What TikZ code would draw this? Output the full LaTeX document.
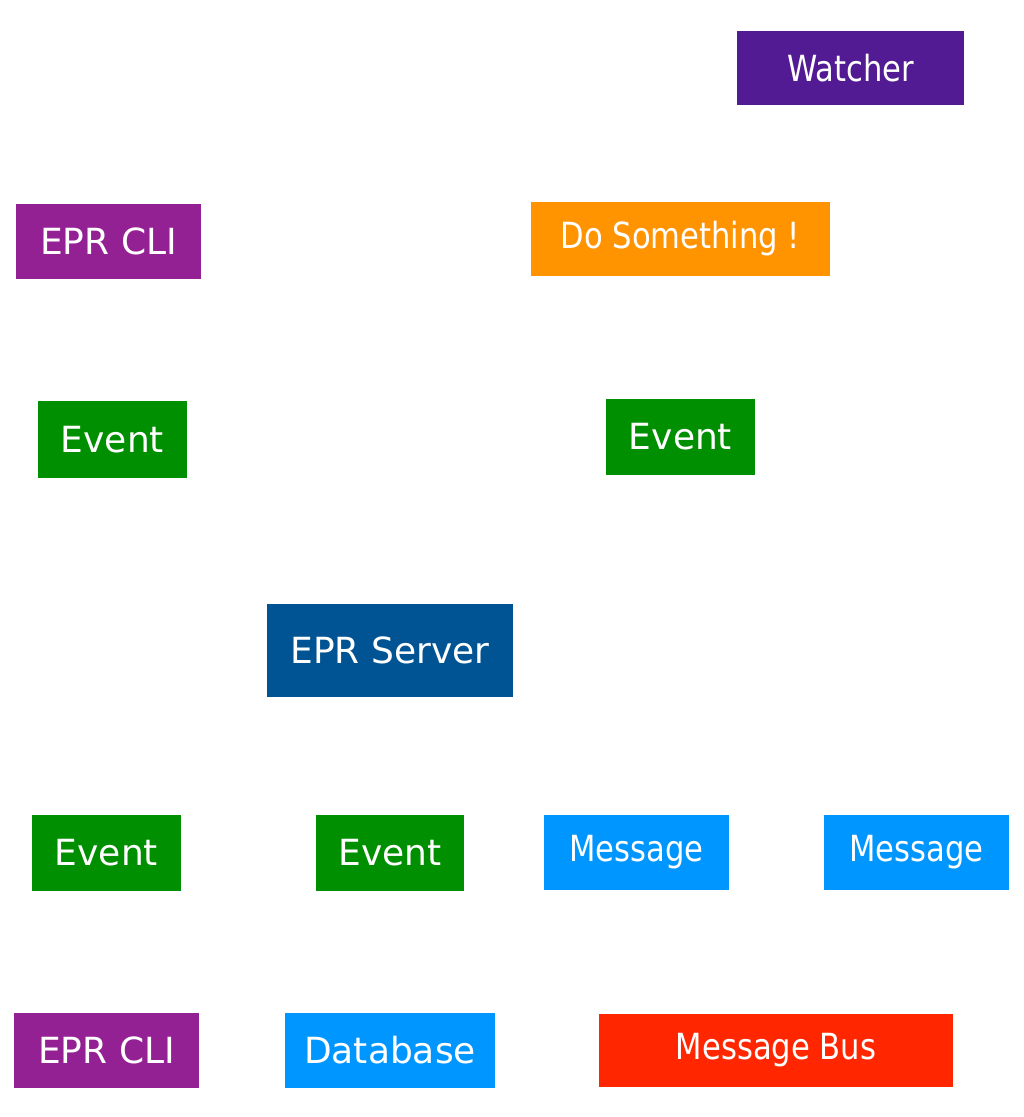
\documentclass[tikz,border=0pt]{standalone}
\usepackage{fontspec}
\setmainfont{DejaVu Sans}
\newfontfamily\narrowfont[FakeStretch=0.85]{DejaVu Sans}
\definecolor{cgrape}{HTML}{531B93}
\definecolor{cplum}{HTML}{942193}
\definecolor{ctang}{HTML}{FF9300}
\definecolor{cclover}{HTML}{008F00}
\definecolor{cocean}{HTML}{005493}
\definecolor{caqua}{HTML}{0096FF}
\definecolor{cmaraschino}{HTML}{FF2600}
\tikzset{
  box/.style={rectangle, draw=none, inner sep=0pt, text=white,
    font=\fontsize{36pt}{40pt}\selectfont},
  nbox/.style={box, font=\fontsize{36pt}{40pt}\narrowfont}
}
\newcommand{\boxat}[8]{%
  % #1 name, #2 style, #3 colour, #4 x1, #5 y1, #6 x2, #7 y2, #8 text
  \node[#2, fill=#3, minimum width={(#6-#4)*1pt}, minimum height={(#7-#5)*1pt}]
    (#1) at ({(#4+#6)/2},{(#5+#7)/2}) {#8};}
\begin{document}
\begin{tikzpicture}[x=1pt,y=-1pt]
\useasboundingbox (0,0) rectangle (1024,1117);
\boxat{watcher}{nbox}{cgrape}{737}{31}{964}{105}{Watcher}
\boxat{cli1}{box}{cplum}{16}{204}{201}{279}{EPR CLI}
\boxat{dosth}{nbox}{ctang}{531}{202}{830}{276}{Do Something !}
\boxat{ev1}{box}{cclover}{38}{401}{187}{478}{Event}
\boxat{ev2}{box}{cclover}{606}{399}{755}{475}{Event}
\boxat{server}{box}{cocean}{267}{604}{513}{697}{EPR Server}
\boxat{ev3}{box}{cclover}{32}{815}{181}{891}{Event}
\boxat{ev4}{box}{cclover}{316}{815}{464}{891}{Event}
\boxat{msg1}{nbox}{caqua}{544}{815}{729}{890}{Message}
\boxat{msg2}{nbox}{caqua}{824}{815}{1009}{890}{Message}
\boxat{cli2}{box}{cplum}{14}{1013}{199}{1088}{EPR CLI}
\boxat{db}{box}{caqua}{285}{1013}{495}{1088}{Database}
\boxat{bus}{nbox}{cmaraschino}{599}{1014}{953}{1087}{Message Bus}
\end{tikzpicture}
\end{document}
